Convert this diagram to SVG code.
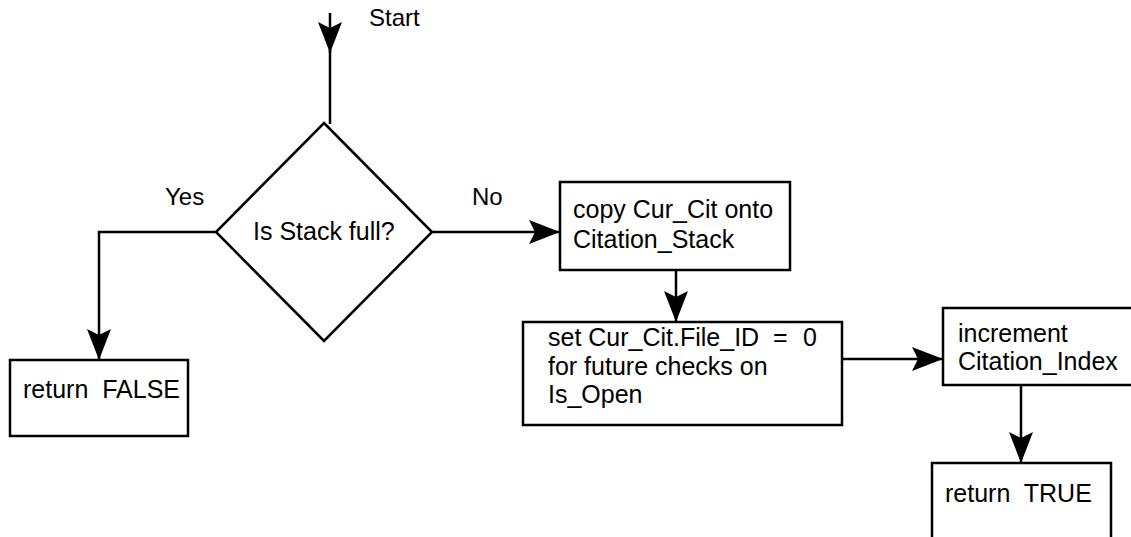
<svg xmlns="http://www.w3.org/2000/svg" width="1131" height="537" viewBox="0 0 1131 537">
  <defs>
    <marker id="arrow" markerUnits="userSpaceOnUse" markerWidth="34" markerHeight="30" viewBox="-32 -14 34 28" refX="0" refY="0" orient="auto">
      <path d="M0,0 L-31,-12 L-25,0 L-31,12 Z" fill="#000"/>
    </marker>
    <style>
      .box { fill: #fff; stroke: #000; stroke-width: 2.5; }
      .link { fill: none; stroke: #000; stroke-width: 2.5; }
      .arrow { marker-end: url(#arrow); }
      text { font-family: "Liberation Sans", Arial, sans-serif; font-size: 25px; fill: #000; white-space: pre; }
      .label { font-size: 24px; }
    </style>
  </defs>
  <rect width="1131" height="537" fill="#fff"/>

  <!-- connectors -->
  <g id="connectors">
    <path class="link arrow" d="M330,13 L330,53"/>
    <path class="link" d="M330,50 L330,124"/>
    <path class="link arrow" d="M216,232 L99,232 L99,360"/>
    <path class="link arrow" d="M432,232 L560,232"/>
    <path class="link arrow" d="M676,270 L676,322"/>
    <path class="link arrow" d="M842,359 L943,359"/>
    <path class="link arrow" d="M1021,385 L1021,463"/>
  </g>

  <!-- edge labels -->
  <g id="labels">
    <text class="label" x="369" y="26">Start</text>
    <text class="label" x="165" y="205">Yes</text>
    <text class="label" x="472" y="205">No</text>
  </g>

  <g id="decision">
    <polygon class="box" points="324,123 432,232 324,341 216,232"/>
    <text x="253" y="240">Is Stack full?</text>
  </g>

  <g id="return-false">
    <rect class="box" x="10" y="360" width="178" height="76"/>
    <text x="23" y="398">return  FALSE</text>
  </g>

  <g id="copy-citation">
    <rect class="box" x="560" y="182" width="230" height="88"/>
    <text x="573" y="218">copy Cur_Cit onto</text>
    <text x="573" y="248">Citation_Stack</text>
  </g>

  <g id="reset-file-id">
    <rect class="box" x="523" y="322" width="319" height="103"/>
    <text x="548" y="346">set Cur_Cit.File_ID <tspan x="773">=</tspan> <tspan x="803">0</tspan></text>
    <text x="548" y="375">for future checks on</text>
    <text x="548" y="403">Is_Open</text>
  </g>

  <g id="increment-index">
    <rect class="box" x="943" y="308" width="200" height="77"/>
    <text x="958" y="342">increment</text>
    <text x="958" y="370">Citation_Index</text>
  </g>

  <g id="return-true">
    <rect class="box" x="932" y="463" width="179" height="100"/>
    <text x="945" y="502">return  TRUE</text>
  </g>
</svg>
